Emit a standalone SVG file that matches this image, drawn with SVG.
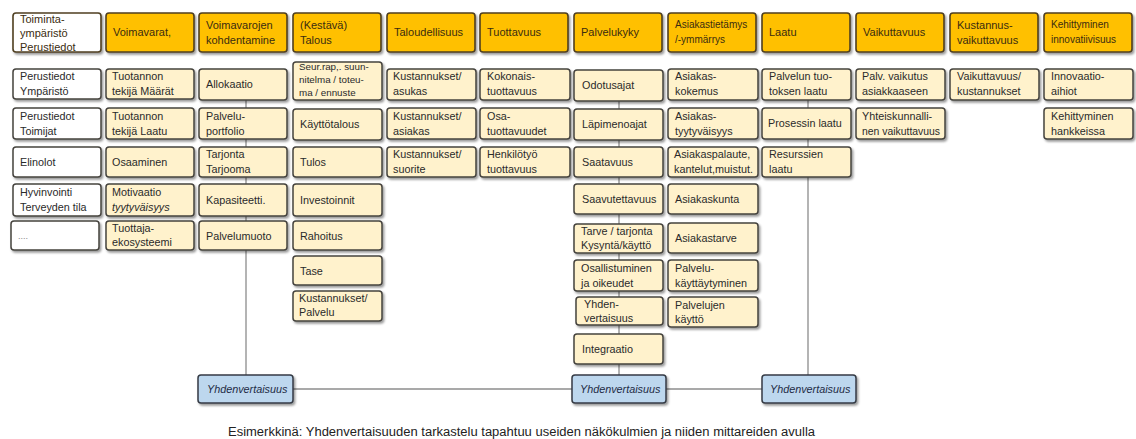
<svg xmlns="http://www.w3.org/2000/svg" width="1136" height="439" viewBox="0 0 1136 439">
  <style>
    .hdr { fill: #FFC000; stroke: #4f3f20; stroke-width: 1.6; }
    .hdrw { fill: #ffffff; stroke: #4f3f20; stroke-width: 1.6; }
    .cell { fill: #FFF2CC; stroke: #45433d; stroke-width: 1.5; }
    .plain { fill: #ffffff; stroke: #45433d; stroke-width: 1.5; }
    .blue { fill: #BDD7EE; stroke: #353b45; stroke-width: 1.5; }
    .box { filter: url(#shadow); }
    text { font-family: "Liberation Sans", Arial, sans-serif; font-size: 10.8px; fill: #2a2a2a; }
    .h { font-size: 11px; fill: #3a2c10; }
    .hs { font-size: 10px; fill: #3a2c10; }
    .s { font-size: 9.8px; }
    .i { font-style: italic; }
    .b { font-style: italic; fill: #1d2b45; font-size: 10.8px; }
    .dots { fill: #888888; font-size: 9px; }
    .foot { font-size: 12.5px; fill: #222222; }
    .link { stroke: #8c8c8c; stroke-width: 1.3; fill: none; }
  </style>
  <defs>
    <filter id="shadow" x="-10%" y="-20%" width="130%" height="160%">
      <feDropShadow dx="1.6" dy="2" stdDeviation="1.3" flood-color="#000000" flood-opacity="0.4"/>
    </filter>
  </defs>
  <rect width="1136" height="439" fill="#ffffff"/>

  <!-- connectors: column spines and the bottom link between the three Yhdenvertaisuus boxes -->
  <g id="connectors">
    <line class="link" x1="246" y1="100" x2="246" y2="375"/>
    <line class="link" x1="619" y1="101" x2="619" y2="375"/>
    <line class="link" x1="808" y1="100" x2="808" y2="375"/>
    <line class="link" x1="293" y1="389" x2="572" y2="389"/>
    <line class="link" x1="666" y1="389" x2="762" y2="389"/>
  </g>

  <!-- header row -->
  <g id="h-toimintaymparisto"><rect class="hdrw box" x="13" y="13" width="88" height="39" rx="3"/>
    <text class="h" x="20" y="23">Toiminta-</text><text class="h" x="20" y="37">ympäristö</text><text class="h" x="20" y="51">Perustiedot</text></g>
  <g id="h-voimavarat"><rect class="hdr box" x="106" y="13" width="88" height="39" rx="3"/>
    <text class="h" x="113" y="36">Voimavarat,</text></g>
  <g id="h-kohdentaminen"><rect class="hdr box" x="199" y="13" width="88" height="39" rx="3"/>
    <text class="h" x="206" y="29">Voimavarojen</text><text class="h" x="206" y="44">kohdentamine</text></g>
  <g id="h-talous"><rect class="hdr box" x="293" y="13" width="88" height="39" rx="3"/>
    <text class="h" x="300" y="29">(Kestävä)</text><text class="h" x="300" y="44">Talous</text></g>
  <g id="h-taloudellisuus"><rect class="hdr box" x="387" y="13" width="88" height="39" rx="3"/>
    <text class="h" x="394" y="36">Taloudellisuus</text></g>
  <g id="h-tuottavuus"><rect class="hdr box" x="480" y="13" width="88" height="39" rx="3"/>
    <text class="h" x="487" y="36">Tuottavuus</text></g>
  <g id="h-palvelukyky"><rect class="hdr box" x="574" y="13" width="88" height="39" rx="3"/>
    <text class="h" x="581" y="36">Palvelukyky</text></g>
  <g id="h-asiakastietamys"><rect class="hdr box" x="668" y="13" width="88" height="39" rx="3"/>
    <text class="hs" x="675" y="28">Asiakastietämys</text><text class="hs" x="675" y="43">/-ymmärrys</text></g>
  <g id="h-laatu"><rect class="hdr box" x="762" y="13" width="88" height="39" rx="3"/>
    <text class="h" x="769" y="36">Laatu</text></g>
  <g id="h-vaikuttavuus"><rect class="hdr box" x="856" y="13" width="88" height="39" rx="3"/>
    <text class="h" x="863" y="36">Vaikuttavuus</text></g>
  <g id="h-kustannusvaikuttavuus"><rect class="hdr box" x="950" y="13" width="88" height="39" rx="3"/>
    <text class="h" x="957" y="29">Kustannus-</text><text class="h" x="957" y="44">vaikuttavuus</text></g>
  <g id="h-kehittyminen"><rect class="hdr box" x="1044" y="13" width="88" height="39" rx="3"/>
    <text class="hs" x="1051" y="28">Kehittyminen</text><text class="hs" x="1051" y="43">innovatiivisuus</text></g>

  <!-- column 1: operating environment -->
  <g id="c1-ymparisto"><rect class="plain box" x="13" y="69" width="88" height="30" rx="3"/>
    <text x="20" y="80">Perustiedot</text><text x="20" y="95">Ympäristö</text></g>
  <g id="c1-toimijat"><rect class="plain box" x="13" y="108" width="88" height="31" rx="3"/>
    <text x="20" y="120">Perustiedot</text><text x="20" y="135">Toimijat</text></g>
  <g id="c1-elinolot"><rect class="plain box" x="13" y="147" width="88" height="30" rx="3"/>
    <text x="20" y="166">Elinolot</text></g>
  <g id="c1-hyvinvointi"><rect class="plain box" x="13" y="184" width="88" height="32" rx="3"/>
    <text x="20" y="196">Hyvinvointi</text><text x="20" y="211">Terveyden tila</text></g>
  <g id="c1-muut"><rect class="plain box" x="11" y="221" width="88" height="29" rx="3"/>
    <text class="dots" x="18" y="239">....</text></g>

  <!-- column 2: resources -->
  <g id="c2-maarat"><rect class="cell box" x="106" y="69" width="88" height="30" rx="3"/>
    <text x="112" y="80">Tuotannon</text><text x="112" y="95">tekijä Määrät</text></g>
  <g id="c2-laatu"><rect class="cell box" x="106" y="108" width="88" height="31" rx="3"/>
    <text x="112" y="120">Tuotannon</text><text x="112" y="135">tekijä Laatu</text></g>
  <g id="c2-osaaminen"><rect class="cell box" x="106" y="147" width="88" height="30" rx="3"/>
    <text x="112" y="166">Osaaminen</text></g>
  <g id="c2-motivaatio"><rect class="cell box" x="106" y="184" width="88" height="32" rx="3"/>
    <text x="112" y="196">Motivaatio</text><text class="i" x="112" y="211">tyytyväisyys</text></g>
  <g id="c2-ekosysteemi"><rect class="cell box" x="106" y="221" width="88" height="29" rx="3"/>
    <text x="112" y="232">Tuottaja-</text><text x="112" y="246">ekosysteemi</text></g>

  <!-- column 3: allocation of resources -->
  <g id="c3-allokaatio"><rect class="cell box" x="199" y="69" width="88" height="31" rx="3"/>
    <text x="206" y="88">Allokaatio</text></g>
  <g id="c3-portfolio"><rect class="cell box" x="199" y="108" width="88" height="31" rx="3"/>
    <text x="206" y="120">Palvelu-</text><text x="206" y="135">portfolio</text></g>
  <g id="c3-tarjonta"><rect class="cell box" x="199" y="147" width="88" height="30" rx="3"/>
    <text x="206" y="158">Tarjonta</text><text x="206" y="173">Tarjooma</text></g>
  <g id="c3-kapasiteetti"><rect class="cell box" x="199" y="184" width="88" height="32" rx="3"/>
    <text x="206" y="204">Kapasiteetti.</text></g>
  <g id="c3-palvelumuoto"><rect class="cell box" x="199" y="221" width="88" height="29" rx="3"/>
    <text x="206" y="240">Palvelumuoto</text></g>

  <!-- column 4: economy -->
  <g id="c4-seuranta"><rect class="cell box" x="293" y="62" width="89" height="38" rx="3"/>
    <text class="s" x="299" y="70">Seur.rap,. suun-</text><text class="s" x="299" y="83">nitelma / toteu-</text><text class="s" x="299" y="96">ma / ennuste</text></g>
  <g id="c4-kayttotalous"><rect class="cell box" x="293" y="109" width="89" height="31" rx="3"/>
    <text x="300" y="128">Käyttötalous</text></g>
  <g id="c4-tulos"><rect class="cell box" x="293" y="147" width="89" height="30" rx="3"/>
    <text x="300" y="166">Tulos</text></g>
  <g id="c4-investoinnit"><rect class="cell box" x="293" y="184" width="89" height="32" rx="3"/>
    <text x="300" y="204">Investoinnit</text></g>
  <g id="c4-rahoitus"><rect class="cell box" x="293" y="221" width="89" height="29" rx="3"/>
    <text x="300" y="240">Rahoitus</text></g>
  <g id="c4-tase"><rect class="cell box" x="293" y="256" width="89" height="29" rx="3"/>
    <text x="300" y="275">Tase</text></g>
  <g id="c4-kustannukset-palvelu"><rect class="cell box" x="293" y="291" width="89" height="30" rx="3"/>
    <text x="299" y="302">Kustannukset/</text><text x="299" y="316">Palvelu</text></g>

  <!-- column 5: cost-efficiency -->
  <g id="c5-asukas"><rect class="cell box" x="387" y="69" width="89" height="31" rx="3"/>
    <text x="393" y="80">Kustannukset/</text><text x="393" y="95">asukas</text></g>
  <g id="c5-asiakas"><rect class="cell box" x="387" y="108" width="89" height="31" rx="3"/>
    <text x="393" y="120">Kustannukset/</text><text x="393" y="135">asiakas</text></g>
  <g id="c5-suorite"><rect class="cell box" x="387" y="147" width="89" height="30" rx="3"/>
    <text x="393" y="158">Kustannukset/</text><text x="393" y="173">suorite</text></g>

  <!-- column 6: productivity -->
  <g id="c6-kokonais"><rect class="cell box" x="480" y="69" width="90" height="31" rx="3"/>
    <text x="487" y="80">Kokonais-</text><text x="487" y="95">tuottavuus</text></g>
  <g id="c6-osa"><rect class="cell box" x="480" y="108" width="90" height="31" rx="3"/>
    <text x="487" y="120">Osa-</text><text x="487" y="135">tuottavuudet</text></g>
  <g id="c6-henkilotyo"><rect class="cell box" x="480" y="147" width="90" height="30" rx="3"/>
    <text x="487" y="158">Henkilötyö</text><text x="487" y="173">tuottavuus</text></g>

  <!-- column 7: service capability -->
  <g id="c7-odotusajat"><rect class="cell box" x="574" y="70" width="89" height="31" rx="3"/>
    <text x="582" y="89">Odotusajat</text></g>
  <g id="c7-lapimenoajat"><rect class="cell box" x="574" y="109" width="89" height="31" rx="3"/>
    <text x="582" y="128">Läpimenoajat</text></g>
  <g id="c7-saatavuus"><rect class="cell box" x="574" y="147" width="89" height="30" rx="3"/>
    <text x="582" y="166">Saatavuus</text></g>
  <g id="c7-saavutettavuus"><rect class="cell box" x="574" y="184" width="89" height="30" rx="3"/>
    <text x="582" y="203">Saavutettavuus</text></g>
  <g id="c7-tarve"><rect class="cell box" x="574" y="224" width="89" height="29" rx="3"/>
    <text x="581" y="235">Tarve / tarjonta</text><text x="581" y="249">Kysyntä/käyttö</text></g>
  <g id="c7-osallistuminen"><rect class="cell box" x="574" y="260" width="89" height="31" rx="3"/>
    <text x="581" y="272">Osallistuminen</text><text x="581" y="287">ja oikeudet</text></g>
  <g id="c7-yhdenvertaisuus"><rect class="cell box" x="576" y="297" width="87" height="28" rx="3"/>
    <text x="584" y="308">Yhden-</text><text x="584" y="322">vertaisuus</text></g>
  <g id="c7-integraatio"><rect class="cell box" x="574" y="334" width="89" height="30" rx="3"/>
    <text x="582" y="353">Integraatio</text></g>

  <!-- column 8: customer insight -->
  <g id="c8-kokemus"><rect class="cell box" x="668" y="69" width="90" height="31" rx="3"/>
    <text x="675" y="80">Asiakas-</text><text x="675" y="95">kokemus</text></g>
  <g id="c8-tyytyvaisyys"><rect class="cell box" x="668" y="108" width="90" height="31" rx="3"/>
    <text x="675" y="120">Asiakas-</text><text x="675" y="135">tyytyväisyys</text></g>
  <g id="c8-palaute"><rect class="cell box" x="668" y="147" width="90" height="30" rx="3"/>
    <text x="674" y="158">Asiakaspalaute,</text><text x="674" y="173" textLength="79" lengthAdjust="spacingAndGlyphs">kantelut,muistut.</text></g>
  <g id="c8-asiakaskunta"><rect class="cell box" x="668" y="184" width="90" height="30" rx="3"/>
    <text x="675" y="203">Asiakaskunta</text></g>
  <g id="c8-asiakastarve"><rect class="cell box" x="668" y="223" width="90" height="30" rx="3"/>
    <text x="675" y="242">Asiakastarve</text></g>
  <g id="c8-kayttaytyminen"><rect class="cell box" x="668" y="260" width="90" height="31" rx="3"/>
    <text x="675" y="272">Palvelu-</text><text x="675" y="287">käyttäytyminen</text></g>
  <g id="c8-kaytto"><rect class="cell box" x="668" y="297" width="90" height="30" rx="3"/>
    <text x="675" y="309">Palvelujen</text><text x="675" y="323">käyttö</text></g>

  <!-- column 9: quality -->
  <g id="c9-tuotos"><rect class="cell box" x="762" y="69" width="89" height="31" rx="3"/>
    <text x="769" y="80">Palvelun tuo-</text><text x="769" y="95">toksen laatu</text></g>
  <g id="c9-prosessi"><rect class="cell box" x="762" y="108" width="89" height="31" rx="3"/>
    <text x="768" y="127">Prosessin laatu</text></g>
  <g id="c9-resurssit"><rect class="cell box" x="762" y="147" width="89" height="30" rx="3"/>
    <text x="769" y="158">Resurssien</text><text x="769" y="173">laatu</text></g>

  <!-- column 10: effectiveness -->
  <g id="c10-asiakkaaseen"><rect class="cell box" x="856" y="69" width="89" height="31" rx="3"/>
    <text x="862" y="80">Palv. vaikutus</text><text x="862" y="95">asiakkaaseen</text></g>
  <g id="c10-yhteiskunnallinen"><rect class="cell box" x="856" y="108" width="89" height="31" rx="3"/>
    <text x="862" y="120">Yhteiskunnalli-</text><text x="862" y="135" textLength="78" lengthAdjust="spacingAndGlyphs">nen vaikuttavuus</text></g>

  <!-- column 11: cost-effectiveness -->
  <g id="c11-vaikuttavuus-kustannukset"><rect class="cell box" x="950" y="69" width="89" height="31" rx="3"/>
    <text x="957" y="80">Vaikuttavuus/</text><text x="957" y="95">kustannukset</text></g>

  <!-- column 12: development and innovation -->
  <g id="c12-aihiot"><rect class="cell box" x="1044" y="69" width="89" height="31" rx="3"/>
    <text x="1051" y="80">Innovaatio-</text><text x="1051" y="95">aihiot</text></g>
  <g id="c12-hankkeet"><rect class="cell box" x="1044" y="108" width="89" height="31" rx="3"/>
    <text x="1051" y="120">Kehittyminen</text><text x="1051" y="135">hankkeissa</text></g>

  <!-- equality perspective boxes -->
  <g id="eq-left"><rect class="blue box" x="198" y="375" width="95" height="28" rx="3"/>
    <text class="b" x="207" y="393">Yhdenvertaisuus</text></g>
  <g id="eq-center"><rect class="blue box" x="572" y="375" width="94" height="28" rx="3"/>
    <text class="b" x="580" y="393">Yhdenvertaisuus</text></g>
  <g id="eq-right"><rect class="blue box" x="762" y="375" width="94" height="28" rx="3"/>
    <text class="b" x="770" y="393">Yhdenvertaisuus</text></g>

  <text class="foot" x="228" y="436" textLength="587" lengthAdjust="spacingAndGlyphs">Esimerkkinä: Yhdenvertaisuuden tarkastelu tapahtuu useiden näkökulmien ja niiden mittareiden avulla</text>
</svg>
